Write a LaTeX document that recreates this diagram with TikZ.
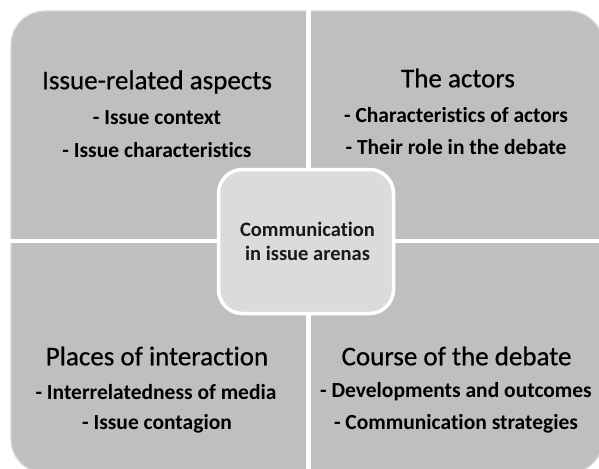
\documentclass[tikz,border=0pt]{standalone}
\usepackage{fontspec}
\setmainfont{Carlito}[RawFeature=-liga]
\newfontfamily\titlefont{Carlito}[RawFeature=-liga, FakeBold=0.6]
\begin{document}
\begin{tikzpicture}[x=1pt,y=-1pt,
  title/.style={font=\titlefont\fontsize{27}{29}\selectfont, text=black, inner sep=0pt, anchor=center},
  item/.style={font=\bfseries\fontsize{21.5}{23}\selectfont, text=black, inner sep=0pt, anchor=center},
  ctext/.style={font=\bfseries\fontsize{20.5}{22}\selectfont, text=black!90, inner sep=0pt, align=center}]
\useasboundingbox (0,0) rectangle (599,468);
\fill[white] (0,0) rectangle (599,468);
% outer shape
\draw[black!15, line width=1.2pt, fill=black!25] (11,11) [rounded corners=34pt] rectangle (603,473);
% dividers
\draw[white, line width=5pt] (308.5,8) -- (308.5,470);
\draw[white, line width=4.5pt] (8,241) -- (602,241);
% center box
\draw[white, line width=3.5pt, fill=black!14, rounded corners=24pt] (218.5,169.5) rectangle (393.5,313.5);
\node[ctext] (c) at (307.5,241) {Communication\\[2pt]in issue arenas};
% TL
\node[title] (t1) at (157,82) {Issue-related aspects};
\node[item] (a1) at (157,118) {- Issue context};
\node[item] (a2) at (157,150) {- Issue characteristics};
% TR
\node[title] (t2) at (458,78) {The actors};
\node[item] (b1) at (456,115) {- Characteristics of actors};
\node[item] (b2) at (456,147) {- Their role in the debate};
% BL
\node[title] (t3) at (157,356) {Places of interaction};
\node[item] (d1) at (156,392) {- Interrelatedness of media};
\node[item] (d2) at (157,424) {- Issue contagion};
% BR
\node[title] (t4) at (456.5,356) {Course of the debate};
\node[item] (e1) at (456,392) {- Developments and outcomes};
\node[item] (e2) at (456,424) {- Communication strategies};
\end{tikzpicture}
\end{document}
